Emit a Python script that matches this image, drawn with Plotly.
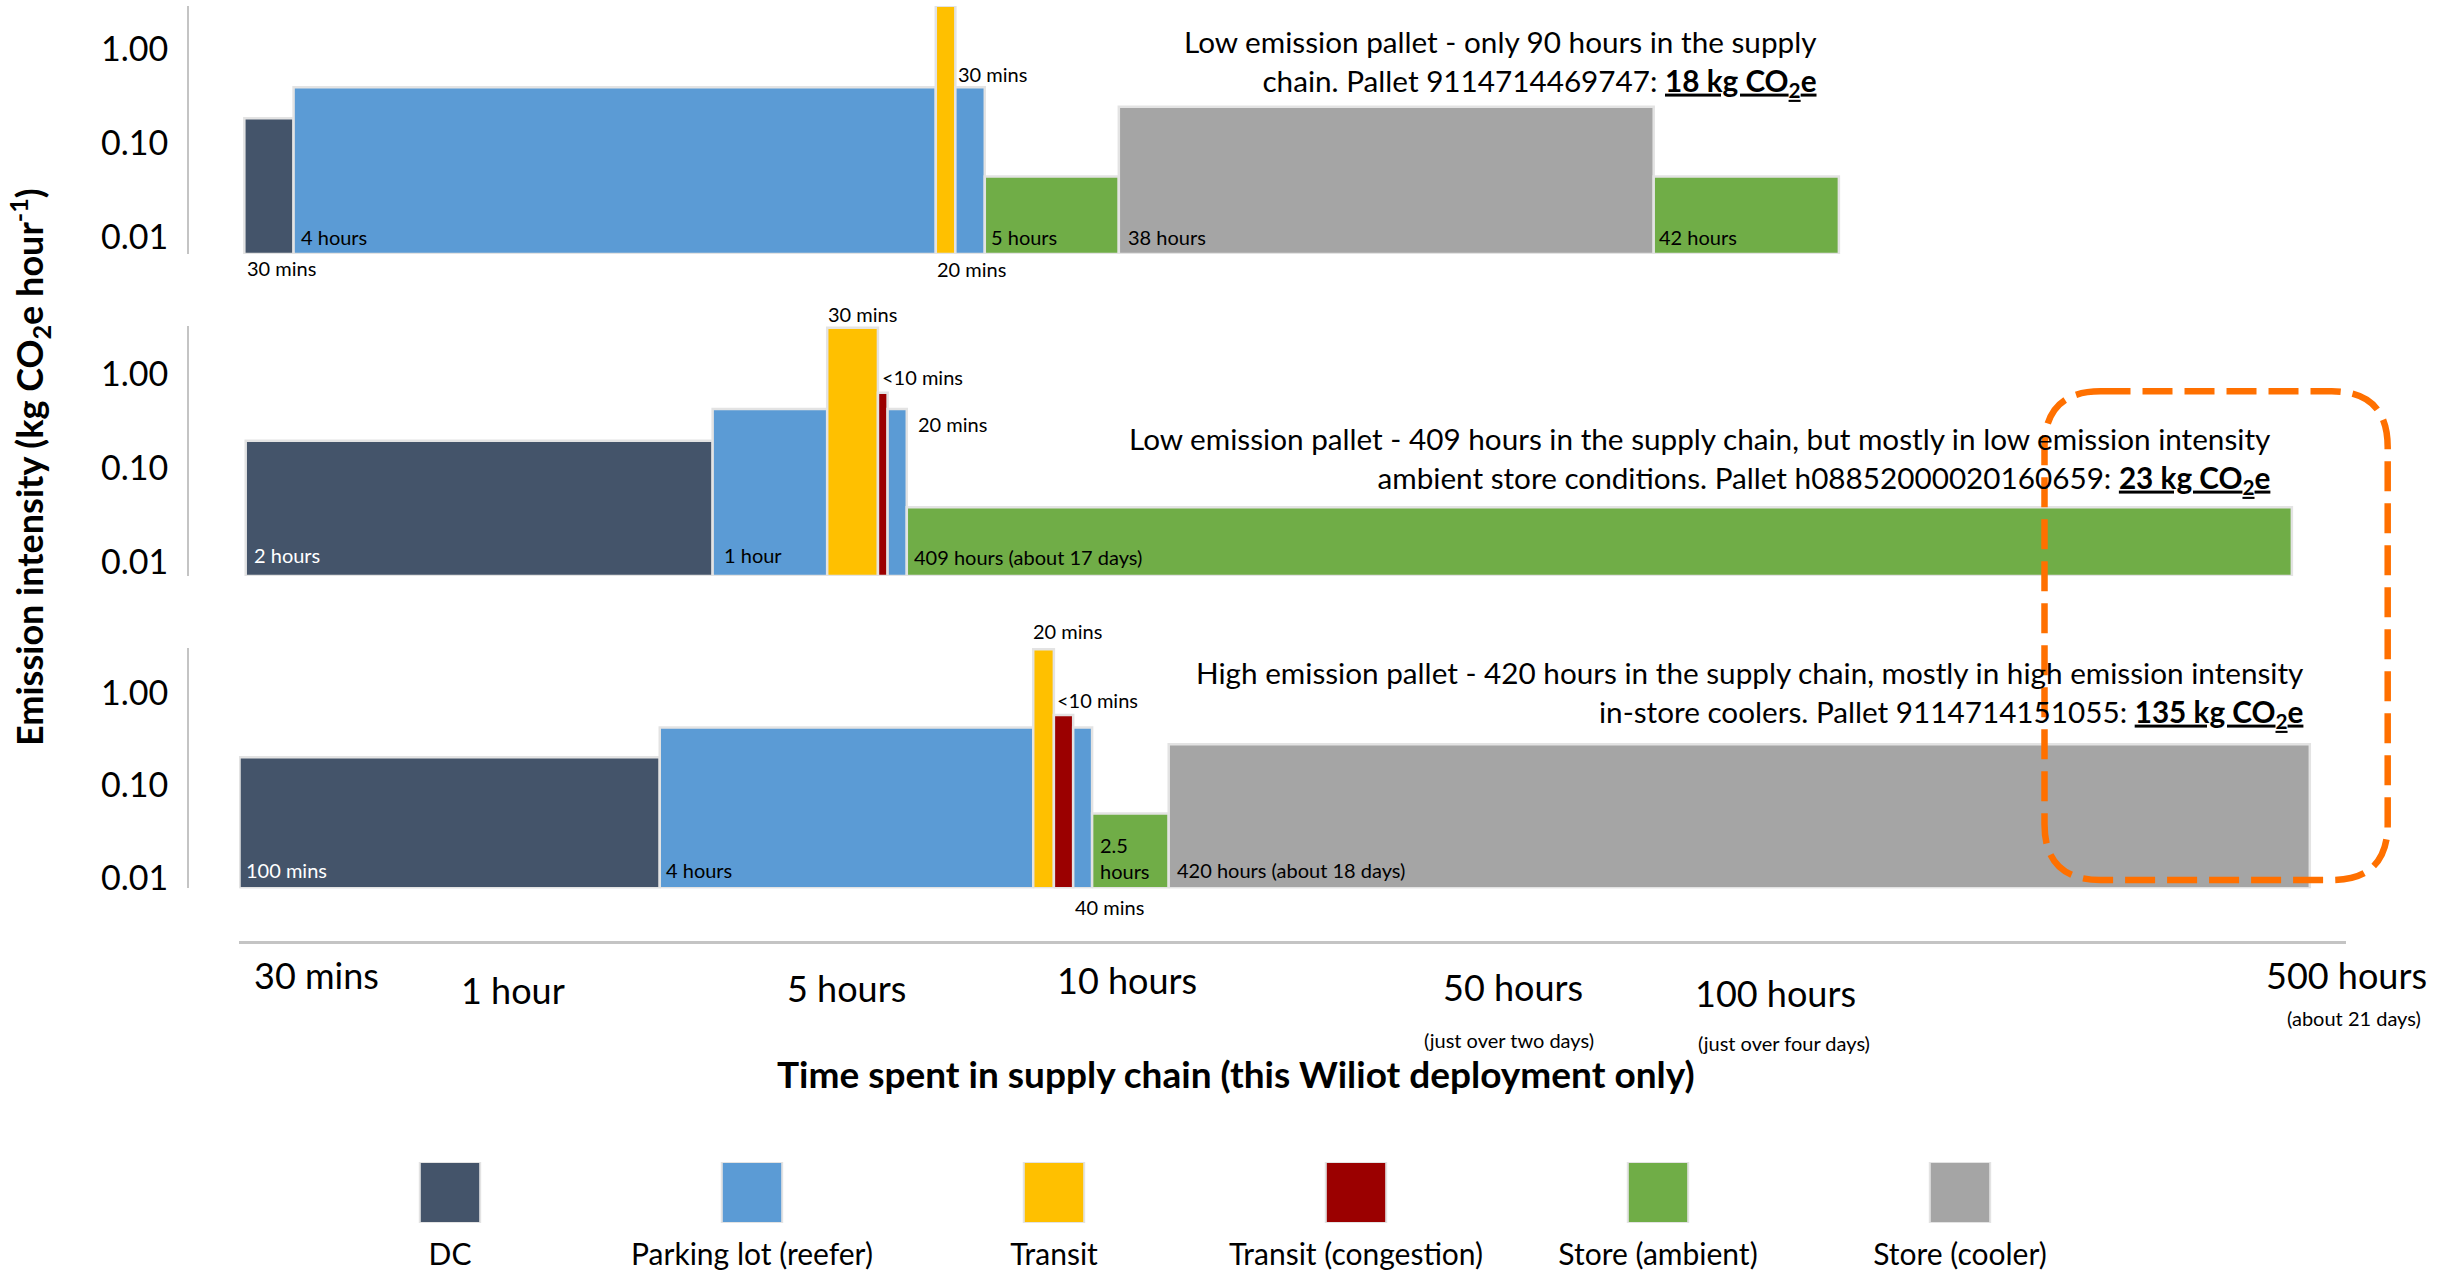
import math
import plotly.graph_objects as go

# ======================= DATA =======================
categories = ["DC", "Parking lot (reefer)", "Transit", "Transit (congestion)",
              "Store (ambient)", "Store (cooler)"]
category_colors = ["#44546A", "#5B9BD5", "#FFC000", "#9B0000", "#70AD47", "#A5A5A5"]

# Pallet 1 (low emission, ~90 h)
p1_stage = ["DC", "Parking lot (reefer)", "Transit", "Parking lot (reefer)",
            "Store (ambient)", "Store (cooler)", "Store (ambient)"]
p1_duration = ["30 mins", "4 hours", "30 mins", "20 mins", "5 hours", "38 hours", "42 hours"]
p1_start_hours = 0.434
p1_end_hours = [0.512, 4.42, 4.72, 5.21, 8.17, 49.2, 91.6]        # cumulative, as drawn
p1_intensity = [0.185, 0.394, 2.9, 0.394, 0.0442, 0.245, 0.0442]  # kg CO2e / hour

# Pallet 2 (low emission, 409 h ambient)
p2_stage = ["DC", "Parking lot (reefer)", "Transit", "Transit (congestion)",
            "Parking lot (reefer)", "Store (ambient)"]
p2_duration = ["2 hours", "1 hour", "30 mins", "<10 mins", "20 mins", "409 hours (about 17 days)"]
p2_start_hours = 0.436
p2_end_hours = [2.09, 3.07, 3.64, 3.76, 4.01, 419.0]
p2_intensity = [0.195, 0.425, 3.13, 0.634, 0.425, 0.038]

# Pallet 3 (high emission, 420 h in coolers)
p3_stage = ["DC", "Parking lot (reefer)", "Transit", "Transit (congestion)",
            "Parking lot (reefer)", "Store (ambient)", "Store (cooler)"]
p3_duration = ["100 mins", "4 hours", "20 mins", "<10 mins", "40 mins", "2.5<br>hours",
               "420 hours (about 18 days)"]
p3_start_hours = 0.427
p3_end_hours = [1.75, 6.13, 6.57, 7.01, 7.47, 9.66, 445.0]
p3_intensity = [0.201, 0.42, 2.94, 0.575, 0.42, 0.05, 0.278]

pallet_titles = [
    "Low emission pallet - only 90 hours in the supply<br>"
    "chain. Pallet 9114714469747: <b><u>18 kg CO<sub>2</sub>e</u></b>",
    "Low emission pallet - 409 hours in the supply chain, but mostly in low emission intensity<br>"
    "ambient store conditions. Pallet h08852000020160659: <b><u>23 kg CO<sub>2</sub>e</u></b>",
    "High emission pallet - 420 hours in the supply chain, mostly in high emission intensity<br>"
    "in-store coolers. Pallet 9114714151055: <b><u>135 kg CO<sub>2</sub>e</u></b>",
]

tick_hours = [0.5, 1, 5, 10, 50, 100, 500]
tick_labels = ["30 mins", "1 hour", "5 hours", "10 hours", "50 hours", "100 hours", "500 hours"]
tick_sublabels = ["", "", "", "", "(just over two days)", "(just over four days)", "(about 21 days)"]

y_tick_vals = [0.01, 0.1, 1.0]
y_tick_text = ["0.01", "0.10", "1.00"]

x_title = "Time spent in supply chain (this Wiliot deployment only)"
y_title = "Emission intensity (kg CO<sub>2</sub>e hour<sup>-1</sup>)"

# ======================= LAYOUT / STYLE =======================
W, H = 2450, 1274
FONT = "Lato, 'Open Sans', sans-serif"
OUTLINE = "#E3E3E3"
AXIS_GREY = "#C4C4C4"


def fx(px):
    return px / W


def fy(py):
    return 1 - py / H


X_DOM = (239, 2346)
PX_PER_DECADE = 686.0
X_LO = -0.3703
X_RANGE = (X_LO, X_LO + (X_DOM[1] - X_DOM[0]) / PX_PER_DECADE)
X_AXIS_Y = 941.5
Y_AXIS_X = 188

panel_geom = [
    dict(top=6, bottom=254, lo=-2.178, hi=0.461),
    dict(top=326, bottom=576, lo=-2.152, hi=0.513),
    dict(top=648, bottom=888.3, lo=-2.108, hi=0.481),
]

pallets = [
    (p1_stage, p1_duration, p1_start_hours, p1_end_hours, p1_intensity),
    (p2_stage, p2_duration, p2_start_hours, p2_end_hours, p2_intensity),
    (p3_stage, p3_duration, p3_start_hours, p3_end_hours, p3_intensity),
]

# label placement per segment: (anchor, xanchor, xshift, y-kind, yshift, colour)
label_style = [
    [("start", "left", 2, "base", -14, "#000"), ("start", "left", 6, "base", 17, "#000"),
     ("end", "left", 2, "topnext", 13, "#000"), ("startprev", "left", 0, "base", -15, "#000"),
     ("start", "left", 5, "base", 17, "#000"), ("start", "left", 8, "base", 17, "#000"),
     ("start", "left", 4, "base", 17, "#000")],
    [("start", "left", 7, "base", 21, "#FFFFFF"), ("start", "left", 10, "base", 21, "#000"),
     ("mid", "center", 10, "top", 14, "#000"), ("start", "left", 3, "top", 16, "#000"),
     ("end", "left", 10, "top", -15, "#000"), ("start", "left", 6, "base", 19, "#000")],
    [("start", "left", 5, "base", 18, "#FFFFFF"), ("start", "left", 5, "base", 18, "#000"),
     ("mid", "center", 24, "top", 18, "#000"), ("start", "left", 2, "top", 15, "#000"),
     ("start", "left", 1, "base", -19, "#000"), ("start", "left", 7, "base", 30, "#000"),
     ("start", "left", 7, "base", 18, "#000")],
]

title_right = [1818, 2272, 2305]
title_center_y = [63.4, 460.0, 694.4]

tick_label_y = [975, 990, 988, 980, 986.7, 993, 975]
tick_label_xshift = [29.5, 20, -126.5, -52, -145.5, -90, 1.5]
sub_label_y = [0, 0, 0, 0, 1040, 1042.7, 1018.3]
sub_label_xshift = [0, 0, 0, 0, -149.5, -81, 9.5]

fig = go.Figure()
annotations = []

color_of = dict(zip(categories, category_colors))

for i, (stage, dur, start, ends, val) in enumerate(pallets):
    yname = "y" if i == 0 else f"y{i + 1}"
    geom = panel_geom[i]
    base = 10 ** geom["lo"]
    starts = [start] + ends[:-1]
    for j in range(len(stage)):
        x0, x1, v = starts[j], ends[j], val[j]
        fig.add_trace(go.Scatter(
            x=[x0, x0, x1, x1, x0], y=[base, v, v, base, base],
            mode="lines", fill="toself", fillcolor=color_of[stage[j]],
            line=dict(color=OUTLINE, width=2.5),
            xaxis="x", yaxis=yname, showlegend=False,
            name=stage[j], hoverinfo="text",
            text=f"{stage[j]}: {dur[j].replace('<br>', ' ')}, {v} kg CO2e/h",
        ))
    for j, (anc, xa, xs, yk, ys, col) in enumerate(label_style[i]):
        if anc == "start":
            xv = math.log10(starts[j])
        elif anc == "end":
            xv = math.log10(ends[j])
        elif anc == "startprev":
            xv = math.log10(starts[j - 1])
        else:
            xv = (math.log10(starts[j]) + math.log10(ends[j])) / 2
        if yk == "base":
            yv = geom["lo"]
        elif yk == "topnext":
            yv = math.log10(val[j + 1])
        else:
            yv = math.log10(val[j])
        annotations.append(dict(
            x=xv, y=yv, xref="x", yref=yname, text=dur[j], showarrow=False,
            xanchor=xa, yanchor="middle", xshift=xs, yshift=ys, align="left",
            borderpad=0, font=dict(family=FONT, size=20, color=col)))
    annotations.append(dict(
        x=fx(title_right[i]), y=fy(title_center_y[i]), xref="paper", yref="paper",
        text=pallet_titles[i], showarrow=False, xanchor="right", yanchor="middle",
        align="right", borderpad=0, font=dict(family=FONT, size=29.7, color="#000")))

for k, h in enumerate(tick_hours):
    annotations.append(dict(
        x=math.log10(h), y=fy(tick_label_y[k]), xref="x", yref="paper",
        text=tick_labels[k], showarrow=False, xanchor="center", yanchor="middle",
        xshift=tick_label_xshift[k], borderpad=0,
        font=dict(family=FONT, size=36, color="#000")))
    if tick_sublabels[k]:
        annotations.append(dict(
            x=math.log10(h), y=fy(sub_label_y[k]), xref="x", yref="paper",
            text=tick_sublabels[k], showarrow=False, xanchor="center", yanchor="middle",
            xshift=sub_label_xshift[k], borderpad=0,
            font=dict(family=FONT, size=20, color="#000")))

annotations.append(dict(
    x=fx(1236), y=fy(1073), xref="paper", yref="paper", text=f"<b>{x_title}</b>",
    showarrow=False, xanchor="center", yanchor="middle",
    font=dict(family=FONT, size=37, color="#000")))
annotations.append(dict(
    x=fx(29), y=fy(467), xref="paper", yref="paper", text=f"<b>{y_title}</b>",
    showarrow=False, xanchor="center", yanchor="middle", textangle=-90,
    font=dict(family=FONT, size=36, color="#000")))

# legend drawn as its own small bar chart
fig.add_trace(go.Bar(
    x=categories, y=[1] * len(categories),
    marker=dict(color=category_colors, line=dict(color=OUTLINE, width=2)),
    width=0.2, xaxis="x2", yaxis="y4", showlegend=False, hoverinfo="x"))

layout_axes = {}
for i, geom in enumerate(panel_geom):
    key = "yaxis" if i == 0 else f"yaxis{i + 1}"
    layout_axes[key] = dict(
        type="log", domain=[fy(geom["bottom"]), fy(geom["top"])],
        range=[geom["lo"], geom["hi"]], anchor="free", position=fx(Y_AXIS_X),
        tickvals=y_tick_vals, ticktext=y_tick_text, ticks="", ticklabelstandoff=12,
        showline=True, linecolor=AXIS_GREY, linewidth=2, showgrid=False, zeroline=False,
        automargin=False, tickfont=dict(family=FONT, size=34, color="#000"),
        fixedrange=True)

fig.update_layout(
    width=W, height=H, margin=dict(l=0, r=0, t=0, b=0, pad=0, autoexpand=False),
    paper_bgcolor="white", plot_bgcolor="white", showlegend=False,
    xaxis=dict(type="log", domain=[fx(X_DOM[0]), fx(X_DOM[1])], range=list(X_RANGE),
               anchor="free", position=fy(X_AXIS_Y), showline=True, linecolor=AXIS_GREY,
               linewidth=3, showgrid=False, zeroline=False, showticklabels=False,
               ticks="", automargin=False, fixedrange=True),
    xaxis2=dict(domain=[fx(299), fx(2111)], anchor="y4", type="category",
                showline=False, showgrid=False, zeroline=False, ticks="",
                ticklabelstandoff=11, automargin=False,
                tickfont=dict(family=FONT, size=30, color="#000"), fixedrange=True),
    yaxis4=dict(domain=[fy(1223), fy(1162)], anchor="x2", range=[0, 1], visible=False,
                automargin=False, fixedrange=True),
    annotations=annotations,
    **layout_axes,
)

# highlight box (dashed orange, rounded)
L, R, T, B, r = 2044.5, 2387.7, 391.3, 880, 56
pts = [
    ("M", L + r, T), ("L", R - r, T), ("Q", R, T, R, T + r), ("L", R, B - r),
    ("Q", R, B, R - r, B), ("L", L + r, B), ("Q", L, B, L, B - r), ("L", L, T + r),
    ("Q", L, T, L + r, T),
]
path = ""
for p in pts:
    cmd, coords = p[0], p[1:]
    xy = []
    for a in range(0, len(coords), 2):
        xy.append(f"{fx(coords[a]):.5f},{fy(coords[a + 1]):.5f}")
    path += cmd + " " + " ".join(xy) + " "
path += "Z"
fig.add_shape(type="path", path=path, xref="paper", yref="paper", layer="above",
              line=dict(color="#FF7000", width=6.5, dash="30px,12px"))

fig.write_html("out.html", config={"displayModeBar": False},
               post_script="document.body.style.margin='0';"
                           "document.body.style.overflow='hidden';")
